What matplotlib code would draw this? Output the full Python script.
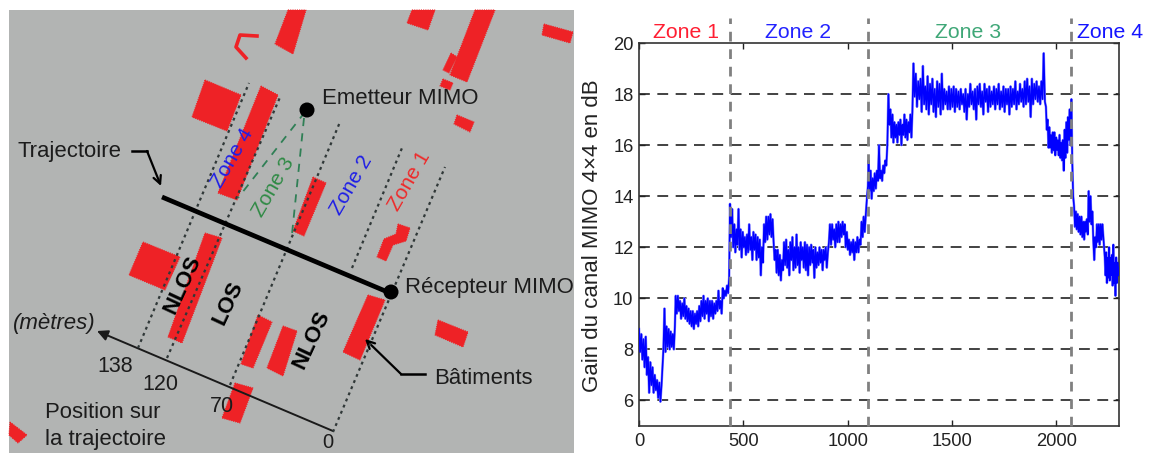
import numpy as np
import matplotlib
matplotlib.use("Agg")
import matplotlib.pyplot as plt
from matplotlib.patches import Polygon, Rectangle, Circle, FancyArrowPatch

plt.rcParams['font.family'] = ['Liberation Sans', 'DejaVu Sans']

# right panel: gain readings, one list per stretch of the trajectory
seg_a_range = [0, 108]
seg_a = [8.8, 7.9, 8.6, 7.6, 8.4, 7.3, 8.5, 7.0, 7.7, 6.3, 7.5, 6.6, 7.3, 6.3, 7.0, 6.4, 6.8, 6.1, 6.7, 5.95, 6.6]
seg_b_range = [112, 172]
seg_b = [7.2, 8.0, 9.6, 7.9, 8.9, 8.1, 8.8, 8.0, 8.7, 8.1, 8.6, 8.0, 8.9]
seg_c_range = [176, 432]
seg_c = [10.1, 9.4, 10.1, 9.5, 9.9, 9.2, 9.8, 9.3, 10.0, 9.2, 9.7, 9.1, 9.6, 9.0, 9.5, 8.9,
         9.5, 8.8, 9.4, 9.0, 9.5, 8.9, 9.7, 9.1, 9.9, 9.3, 10.1, 9.2, 9.9, 9.4, 10.0, 9.1,
         9.9, 9.3, 9.9, 9.2, 9.8, 9.4, 9.9, 9.5, 10.3, 9.6, 9.9, 9.4, 10.4, 10.0, 10.3, 10.1, 10.5, 10.2, 10.8]
seg_d_range = [436, 640]
seg_d = [13.7, 12.4, 13.5, 12.0, 12.9, 11.8, 12.7, 12.1, 13.5, 11.9, 12.7, 11.6, 12.6, 12.0, 12.4, 11.7,
         12.5, 11.8, 12.9, 11.9, 12.4, 11.5, 12.6, 11.9, 12.5, 11.5, 12.4, 11.6, 12.3, 10.9, 12.0, 11.4,
         12.9, 12.2, 13.2, 12.3, 13.2, 12.5, 13.3, 12.4, 13.1]
seg_e_range = [645, 905]
seg_e = [12.2, 11.5, 11.9, 11.0, 11.9, 10.9, 11.7, 10.7, 11.5, 11.1, 12.2, 11.3, 12.3, 11.2, 11.9, 10.9,
         12.2, 11.5, 12.4, 11.1, 12.0, 11.2, 12.5, 11.3, 12.0, 11.0, 12.2, 11.5, 12.0, 11.2, 12.2, 11.1,
         12.1, 10.9, 12.0, 11.3, 12.1, 11.4, 11.9, 10.8, 12.0, 11.2, 11.8, 11.3, 12.0, 11.4, 11.9, 11.1,
         11.9, 11.5, 12.0, 11.2, 11.8]
seg_f_range = [910, 1097]
seg_f = [12.2, 12.9, 12.1, 12.9, 12.3, 12.7, 12.0, 12.9, 12.2, 13.0, 12.2, 12.9, 12.4, 13.0, 12.5, 12.9,
         12.0, 12.6, 11.9, 12.3, 11.7, 12.2, 11.8, 12.3, 11.5, 12.2, 11.8, 12.4, 11.8, 12.3, 12.1, 13.0,
         12.4, 13.2, 12.6, 13.3, 13.9, 14.4]
seg_g_range = [1100, 1190]
seg_g = [15.4, 14.2, 15.0, 13.9, 14.7, 14.2, 14.9, 14.3, 15.0, 14.6, 16.0, 14.7, 15.0, 14.6, 15.2, 14.9, 15.4, 15.2, 16.0]
seg_h_range = [1195, 1310]
seg_h = [18.0, 16.8, 17.4, 16.3, 17.2, 16.1, 16.9, 16.3, 16.8, 16.1, 16.9, 16.4, 17.0, 16.0, 16.8, 16.4,
         17.2, 16.3, 17.0, 16.2, 16.9, 16.5, 17.2, 16.3, 17.3]
seg_i_range = [1315, 1945]
seg_i = [19.2, 17.9, 18.8, 17.5, 18.5, 17.8, 18.6, 17.3, 19.1, 17.6, 18.3, 17.4, 18.7, 17.2, 18.4, 17.6,
         18.6, 17.3, 18.2, 17.1, 18.5, 17.5, 18.4, 17.2, 18.8, 17.4, 18.2, 17.6, 18.1, 17.4, 18.3, 17.4,
         18.2, 17.5, 18.3, 17.3, 18.2, 17.5, 18.1, 17.4, 18.2, 17.6, 18.0, 17.3, 18.2, 17.0, 18.0, 17.5,
         18.4, 17.6, 18.1, 17.4, 18.2, 17.0, 18.3, 17.6, 18.4, 17.5, 18.1, 17.2, 18.4, 17.7, 18.2, 17.3,
         18.3, 17.5, 18.1, 17.6, 18.3, 17.4, 18.2, 17.6, 18.4, 17.4, 18.1, 17.5, 18.3, 17.3, 18.2, 17.6,
         18.2, 17.2, 18.3, 17.5, 18.2, 17.6, 18.5, 17.4, 18.1, 17.6, 18.4, 17.7, 18.2, 17.5, 18.5, 17.6,
         18.6, 17.7, 18.3, 17.1, 18.6, 17.6, 18.4, 17.8, 18.5, 17.7, 18.3, 17.6, 18.5, 17.8, 19.6, 17.7]
seg_j_range = [1950, 2072]
seg_j = [17.5, 16.6, 17.0, 15.9, 16.7, 15.9, 16.4, 15.7, 16.5, 15.8, 16.5, 15.6, 16.3, 15.8, 16.2, 15.6,
         16.4, 15.5, 16.1, 15.4, 16.2, 15.0, 16.6, 15.5, 16.9, 15.7, 17.1, 16.2, 17.4, 16.0, 17.8]
seg_k_range = [2076, 2225]
seg_k = [15.4, 14.0, 13.6, 12.8, 13.4, 12.7, 13.3, 12.6, 13.2, 12.5, 13.2, 12.4, 13.0, 12.3, 13.0, 12.6,
         13.1, 12.5, 14.2, 13.0, 14.0, 12.9, 13.4, 12.3, 11.5, 12.4, 12.0, 12.9, 12.2, 12.9, 12.1, 12.9, 12.3, 12.9, 12.4]
seg_l_range = [2232, 2300]
seg_l = [11.6, 10.9, 11.8, 10.6, 11.6, 10.8, 12.0, 10.7, 11.6, 10.9, 11.7, 10.5, 12.1, 10.6, 11.4, 10.1, 11.6, 10.6, 11.4, 10.9, 11.2]

segments = [(seg_a_range, seg_a), (seg_b_range, seg_b), (seg_c_range, seg_c), (seg_d_range, seg_d),
            (seg_e_range, seg_e), (seg_f_range, seg_f), (seg_g_range, seg_g), (seg_h_range, seg_h),
            (seg_i_range, seg_i), (seg_j_range, seg_j), (seg_k_range, seg_k), (seg_l_range, seg_l)]

zone_edges = [436, 1097, 2072]
zone_names = ['Zone 1', 'Zone 2', 'Zone 3', 'Zone 4']
zone_centres = [225, 762, 1578, 2259]
zone_colors = ['#FF1E32', '#2222FF', '#3FA777', '#1414FF']
y_ticks = [6, 8, 10, 12, 14, 16, 18, 20]
x_ticks = [0, 500, 1000, 1500, 2000]

# left panel: the map, in picture pixels
buildings = [
    [(205, 80), (241, 95), (227, 131), (192, 117)],
    [(261, 86), (278, 95), (237, 200), (218, 193)],
    [(288, 10), (306, 10), (293, 54), (275, 44)],
    [(412, 10), (435, 10), (428, 30), (407, 23)],
    [(475, 10), (495, 10), (467, 82), (450, 75)],
    [(451, 53), (457, 57), (449, 73), (443, 70)],
    [(443, 79), (453, 83), (450, 90), (440, 86)],
    [(544, 24), (573, 32), (570, 43), (542, 35)],
    [(457, 115), (474, 122), (470, 132), (454, 124)],
    [(313, 177), (326, 183), (304, 236), (293, 231)],
    [(143, 242), (180, 257), (165, 290), (129, 275)],
    [(205, 233), (222, 238), (182, 343), (168, 337)],
    [(258, 315), (272, 322), (253, 368), (241, 364)],
    [(283, 326), (297, 331), (283, 376), (267, 368)],
    [(235, 383), (253, 388), (240, 423), (222, 418)],
    [(10, 422), (27, 435), (18, 443), (9, 435)],
    [(368, 295), (385, 300), (360, 360), (343, 352)],
    [(438, 320), (468, 332), (463, 347), (435, 335)],
    [(398, 224), (410, 228), (406, 241), (393, 245), (386, 261), (377, 257), (384, 239), (396, 234)],
]
c_shape = [(257, 36), (240, 35), (236, 47), (246, 58)]
dotted_lines = [
    [(333, 432), (445, 167)],
    [(352, 268), (402, 148)],
    [(230, 385), (340, 122)],
    [(167, 358), (281, 95)],
    [(138, 348), (249, 83)],
]
green_lines = [[(305, 112), (238, 198)], [(304, 118), (292, 234)]]
trajectory = [(162, 197), (390, 293)]
emitter = (307, 110)
receiver = (391, 292)

fig = plt.figure(figsize=(11.5, 4.53), dpi=100, facecolor='white')

# map overlay, y going down like the picture
m = fig.add_axes([0, 0, 1, 1])
m.set_xlim(0, 1150)
m.set_ylim(453, 0)
m.axis('off')
m.add_patch(Rectangle((9, 10), 565, 443, fc='#B2B4B3', ec='none'))
for b in buildings:
    m.add_patch(Polygon(b, closed=True, fc='#EE2226', ec='#EE2226', lw=0.8, ls=(0, (1, 1))))
m.plot(*zip(*c_shape), color='#EE2226', lw=2.6)
for l in dotted_lines:
    m.plot(*zip(*l), color='#303838', lw=1.6, ls=(0, (1.3, 1.7)))
for l in green_lines:
    m.plot(*zip(*l), color='#2F7F55', lw=1.3, ls=(0, (4.5, 4)))
m.plot(*zip(*trajectory), color='black', lw=3.4, solid_capstyle='butt')
m.add_patch(Circle(emitter, 7.5, fc='black', ec='none', zorder=5))
m.add_patch(Circle(receiver, 7.5, fc='black', ec='none', zorder=5))

# distance axis and the two pointers
m.add_patch(FancyArrowPatch((333, 431), (97, 331), arrowstyle='-|>', mutation_scale=16, color='#1a1a1a', lw=1.4,
                            shrinkA=0, shrinkB=0))
m.plot([132, 147], [151, 151], color='black', lw=1.8)
m.add_patch(FancyArrowPatch((147, 151), (161, 186), arrowstyle='->', mutation_scale=14, color='black', lw=1.6,
                            shrinkA=0, shrinkB=0))
m.plot([425, 401], [374, 374], color='black', lw=1.8)
m.add_patch(FancyArrowPatch((401, 374), (365, 339), arrowstyle='->', mutation_scale=14, color='black', lw=1.6,
                            shrinkA=0, shrinkB=0))

txt = '#1c1c1c'
for s, x, y in [('Trajectoire', 17, 152), ('Emetteur MIMO', 322, 99), ('Récepteur MIMO', 405, 287),
                ('Bâtiments', 434, 378), ('Position sur', 45, 413), ('la trajectoire', 45, 440)]:
    m.text(x, y, s, fontsize=15.9, color=txt, va='center', ha='left')
m.text(54, 323, '(mètres)', fontsize=16, color=txt, style='italic', va='center', ha='center')
for s, x, y in [('138', 115, 367), ('120', 160, 385), ('70', 222, 407)]:
    m.text(x, y, s, fontsize=15.5, color=txt, va='center', ha='center')
m.text(328, 443, '0', fontsize=14.5, color=txt, va='center', ha='center')
for s, x, y, c in [('Zone 4', 233, 158, '#1E1EE6'), ('Zone 3', 274, 187, '#2F8A45'),
                   ('Zone 2', 351, 185, '#1E1EE6'), ('Zone 1', 410, 181, '#EE2A2A')]:
    m.text(x, y, s, fontsize=15, color=c, rotation=60, va='center', ha='center')
for s, x, y in [('NLOS', 183, 285), ('LOS', 228, 303), ('NLOS', 312, 340)]:
    m.text(x, y, s, fontsize=16, color='black', weight='bold', rotation=65, va='center', ha='center')

# gain curve
ax = fig.add_axes([639 / 1150, (453 - 426) / 453, 480 / 1150, 383 / 453])
ax.patch.set_alpha(0)
all_x = np.concatenate([np.linspace(r[0], r[1], len(v)) for r, v in segments])
all_y = np.concatenate([v for r, v in segments])
ax.plot(all_x, all_y, color='#8C8CFF', lw=1.8, zorder=2)
ax.plot(all_x, all_y, color='#0000FF', lw=1.1, zorder=3)

ax.set_xlim(0, 2300)
ax.set_ylim(5, 20)
for v in y_ticks[:-1]:
    ax.axhline(v, color='#222222', lw=1.2, ls=(0, (6.5, 4.5)), zorder=1)
for e in zone_edges:
    ax.axvline(e, ymin=0, ymax=1.065, color='#808080', lw=2, ls=(0, (3.5, 2.8)), clip_on=False, zorder=4)
ax.set_xticks(x_ticks)
ax.set_yticks(y_ticks)
ax.tick_params(direction='in', top=True, right=True, length=4, width=1, labelsize=13.2, colors='#222222')
ax.tick_params(axis='y', pad=4)
ax.tick_params(axis='x', pad=5)
for s in ax.spines.values():
    s.set_color('#333333')
    s.set_linewidth(1.2)
ax.set_ylabel('Gain du canal MIMO 4×4 en dB', fontsize=16, color='#222222')
ax.yaxis.set_label_coords(-36 / 480, 0.496)
for name, xc, col in zip(zone_names, zone_centres, zone_colors):
    ax.text(xc, 20.43, name, color=col, fontsize=15.3, ha='center', va='center', clip_on=False)

fig.savefig('out.png', dpi=100)
